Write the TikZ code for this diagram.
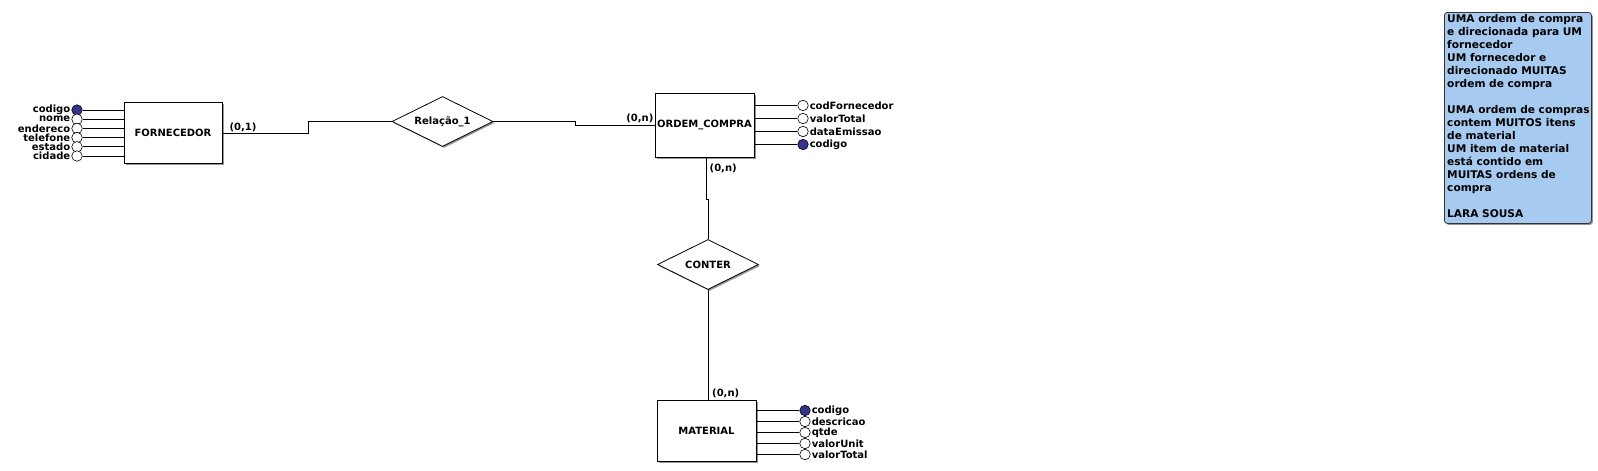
\documentclass[tikz,border=0pt]{standalone}
\usepackage{fontspec}
\setmainfont{DejaVu Sans}
\usetikzlibrary{shapes.geometric,shadows}
\definecolor{keyblue}{RGB}{52,52,140}
\definecolor{notefill}{RGB}{166,202,240}
\definecolor{shadowgray}{RGB}{150,150,150}
\begin{document}
\begin{tikzpicture}[x=1pt,y=-1pt,
  every node/.style={font=\bfseries\fontsize{10}{12}\selectfont},
  conn/.style={draw=black, line width=0.8pt},
  shad/.style={drop shadow={shadow xshift=1.5pt, shadow yshift=-1.5pt, fill=shadowgray, opacity=1}},
  entity/.style={rectangle, draw=black, line width=0.8pt, fill=white, inner sep=0pt, shad},
  rel/.style={diamond, draw=black, line width=0.8pt, fill=white, inner sep=0pt, aspect=2, minimum width=101pt, minimum height=50pt, shad},
  attr/.style={circle, draw=black, line width=0.6pt, fill=white, minimum size=10.5pt, inner sep=0pt},
  keyattr/.style={attr, fill=keyblue},
  lbl/.style={inner sep=1pt},
  card/.style={inner sep=1pt},
  note/.style={rectangle, rounded corners=3pt, draw=black!80, line width=0.8pt, fill=notefill, inner sep=0pt, shad}
]
\useasboundingbox[fill=white] (0,0) rectangle (1598,471);

% entities
\node[entity, minimum width=98pt, minimum height=61pt] (forn) at (173,133) {FORNECEDOR};
\node[entity, minimum width=99pt, minimum height=64pt] (oc) at (704.5,125) {ORDEM\_COMPRA};
\node[entity, minimum width=99pt, minimum height=61pt] (mat) at (706.5,430.5) {MATERIAL};

% relationships
\node[rel] (rel1) at (442.5,121.5) {Relação\_1};
\node[rel] (conter) at (708,264.5) {CONTER};

% connectors
\coordinate (s1) at (308,0);
\coordinate (s2) at (575,0);
\coordinate (j1) at (706.5,199);
\coordinate (j2) at (708,199);
\draw[conn] (forn.east) -- (forn.east -| s1) -- (s1 |- rel1.west) -- (rel1.west);
\draw[conn] (rel1.east) -- (rel1.east -| s2) -- (s2 |- oc.west) -- (oc.west);
\draw[conn] (j1 |- oc.south) -- (j1) -- (j2) -- (conter.north);
\draw[conn] (conter.south) -- (conter.south |- mat.north);

% cardinalities
\node[card, anchor=south west] at ([xshift=6pt]forn.east) {(0,1)};
\node[card, anchor=south east] at ([yshift=1pt]oc.west) {(0,n)};
\node[card, anchor=north west] at ([shift={(2pt,-5pt)}]j1 |- oc.south) {(0,n)};
\node[card, anchor=south west] at ([xshift=3pt]conter.south |- mat.north) {(0,n)};

% FORNECEDOR attributes
\foreach \t/\s [count=\i] in {codigo/keyattr, nome/attr, endereco/attr, telefone/attr, estado/attr, cidade/attr} {
  \pgfmathsetmacro\yy{110+9.2*(\i-1)}
  \node[\s] (fa\i) at (77,\yy) {};
  \draw[conn] (fa\i.east) -- (fa\i.east -| forn.west);
  \node[lbl, anchor=east] at (fa\i.west) {\t};
}

% ORDEM_COMPRA attributes
\foreach \t/\s [count=\i] in {codFornecedor/attr, valorTotal/attr, dataEmissao/attr, codigo/keyattr} {
  \pgfmathsetmacro\yy{105.5+13*(\i-1)}
  \node[\s] (oa\i) at (803,\yy) {};
  \draw[conn] (oa\i.west) -- (oa\i.west -| oc.east);
  \node[lbl, anchor=west] at (oa\i.east) {\t};
}

% MATERIAL attributes
\foreach \t/\s [count=\i] in {codigo/keyattr, descricao/attr, qtde/attr, valorUnit/attr, valorTotal/attr} {
  \pgfmathsetmacro\yy{410.5+11*(\i-1)}
  \node[\s] (ma\i) at (805,\yy) {};
  \draw[conn] (ma\i.west) -- (ma\i.west -| mat.east);
  \node[lbl, anchor=west] at (ma\i.east) {\t};
}

% note
\node[note, anchor=north west, minimum width=147pt, minimum height=211pt] (nt) at (1444,12) {};
\node[anchor=north west, inner sep=0pt, align=left, font=\bfseries\fontsize{10.6}{13}\selectfont] (ntxt) at ([shift={(3,2.5)}]nt.north west)
 {UMA ordem de compra\\e direcionada para UM\\fornecedor\\UM fornecedor e\\direcionado MUITAS\\ordem de compra\\\mbox{}\\UMA ordem de compras\\contem MUITOS itens\\de material\\UM item de material\\está contido em\\MUITAS ordens de\\compra\\\mbox{}\\LARA SOUSA};
\end{tikzpicture}
\end{document}
